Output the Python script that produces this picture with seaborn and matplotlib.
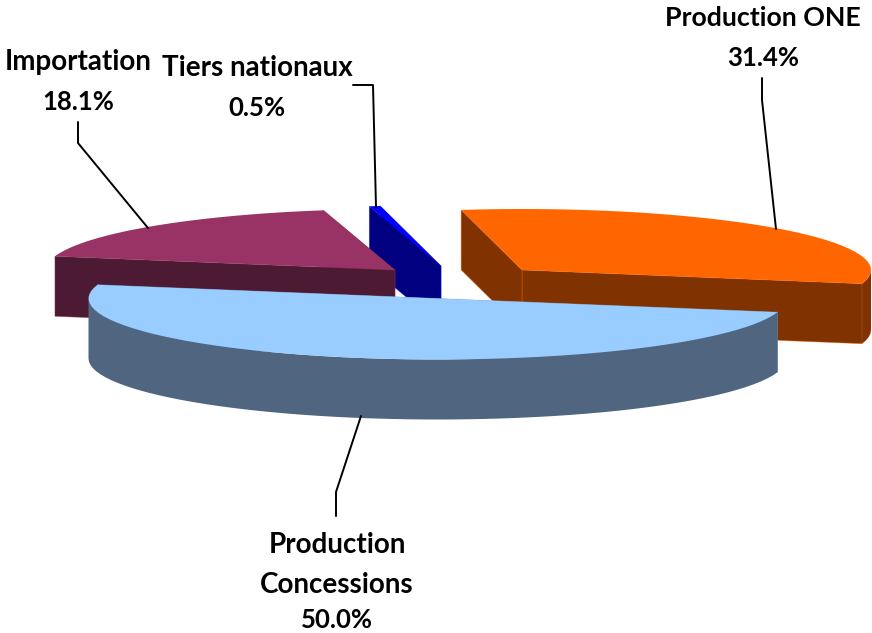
import numpy as np
import matplotlib
matplotlib.use('Agg')
import matplotlib.pyplot as plt
from matplotlib.colors import to_rgba
import seaborn as sns

# slices in drawing order, counter clockwise from the start angle
labels = ['Production ONE', 'Tiers nationaux', 'Importation', 'Production\nConcessions']
shares = [31.4, 0.5, 18.1, 50.0]
share_text = ['31.4%', '0.5%', '18.1%', '50.0%']

top_colors = ['#FF6600', '#0000FF', '#993366', '#99CCFF']
side_colors = ['#803300', '#000080', '#4D1A33', '#4F6580']

# layout in pixels of the 872x633 picture
start_angle = -13
radius_x, radius_y = 349, 61
depth = 60
vertices = [(522, 270), (441, 266), (395, 270), (437.5, 298.5)]
label_pos = [(763, 18), (257, 68), (78, 62), (337, 545)]
label_size = [19.3, 20, 20, 20]
pct_pos = [(763, 58), (257, 108), (78, 102), (337, 620)]
pct_size = 18.5
line_gap = 40
leaders = [
    [(762, 78), (762, 100), (776, 229)],
    [(353, 85), (373, 85), (376, 207)],
    [(78, 122), (78, 143), (148, 228)],
    [(336, 516), (336, 492), (361, 416)],
]


def arc(center, a0, a1):
    n = max(2, int(abs(a1 - a0) / 3) + 1)
    t = np.radians(np.linspace(a0, a1, n))
    return np.column_stack([center[0] + radius_x * np.cos(t), center[1] - radius_y * np.sin(t)])


def extrude(edge):
    low = edge[::-1] + [0, depth]
    return np.vstack([edge, low])


def draw_slice(ax, center, a0, a1, top, side):
    v = np.array(center, dtype=float)
    # cut faces first, the one at the end angle looks to the front
    for a in (a0, a1):
        edge = np.vstack([v, arc(center, a, a)[0]])
        ax.fill(*extrude(edge).T, fc=side, ec=to_rgba(top, 0.45), lw=0.6, zorder=1)
    # outer rim only where it looks down
    vis0, vis1 = a0, a1
    if a0 < 0:
        vis1 = min(a1, 0)
    else:
        vis0 = max(a0, 180)
    if vis1 > vis0:
        ax.fill(*extrude(arc(center, vis0, vis1)).T, color=side, lw=0, zorder=1)
    ax.fill(*np.vstack([v, arc(center, a0, a1)]).T, color=top, lw=0, zorder=1)


sns.set_theme(style='white')
plt.rcParams['font.family'] = ['Lato', 'DejaVu Sans']

fig, ax = plt.subplots(figsize=(8.72, 6.33), dpi=100)
fig.subplots_adjust(0, 0, 1, 1)
ax.set_xlim(0, 872)
ax.set_ylim(633, 0)
ax.axis('off')

edges = start_angle + np.cumsum([0] + shares) * 3.6
for i in range(len(shares)):
    draw_slice(ax, vertices[i], edges[i], edges[i + 1], top_colors[i], side_colors[i])

for line in leaders:
    xs, ys = zip(*line)
    ax.plot(xs, ys, color='black', lw=1.4, zorder=3)

for i in range(len(labels)):
    for j, part in enumerate(labels[i].split('\n')):
        ax.text(label_pos[i][0], label_pos[i][1] + line_gap * j, part, ha='center', va='center',
                fontsize=label_size[i], fontweight='bold', color='black', zorder=4)
    ax.text(pct_pos[i][0], pct_pos[i][1], share_text[i], ha='center', va='center', fontsize=pct_size,
            fontweight='bold', color='black', zorder=4)

fig.savefig('out.png', dpi=100)
